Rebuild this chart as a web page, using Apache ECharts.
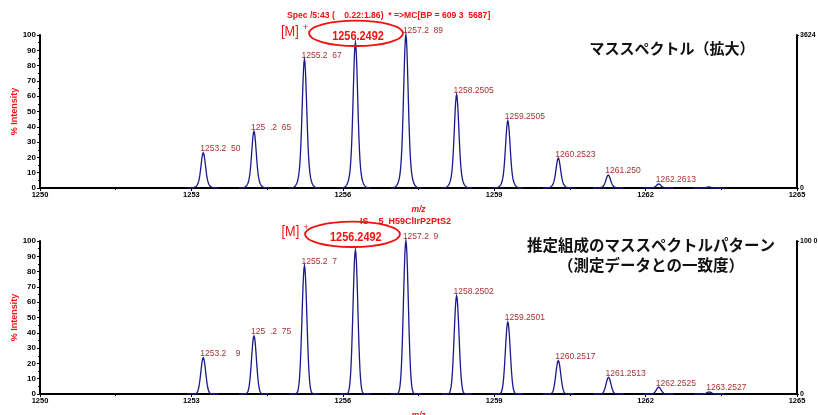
<!DOCTYPE html>
<html>
<head>
<meta charset="utf-8">
<script src="https://cdn.jsdelivr.net/npm/echarts@6/dist/echarts.min.js"></script>
<style>
html, body { margin: 0; padding: 0; background: #fff; }
#chart { width: 818px; height: 415px; }
</style>
</head>
<body>
<div id="chart"></div>
<script>
// measured spectrum (upper panel)
var mzTop = [1253.235, 1254.24, 1255.24, 1256.25, 1257.25, 1258.255, 1259.27, 1260.27, 1261.26, 1262.26, 1263.25];
var intTop = [23, 37, 84, 95, 100, 61, 44, 19.5, 8.5, 2.6, 0.7];
var labelTop = ['1253.2  50', '125  .2  65', '1255.2  67', '', '1257.2  89', '1258.2505', '1259.2505', '1260.2523', '1261.250', '1262.2613', ''];

// simulated isotope pattern (lower panel)
var mzBottom = [1253.235, 1254.24, 1255.24, 1256.25, 1257.25, 1258.255, 1259.27, 1260.27, 1261.265, 1262.26, 1263.26];
var intBottom = [23.7, 38, 83.7, 94, 100, 64, 47, 21.8, 10.9, 4.4, 1.3];
var labelBottom = ['1253.2    9', '125  .2  75', '1255.2  7', '', '1257.2  9', '1258.2502', '1259.2501', '1260.2517', '1261.2513', '1262.2525', '1263.2527'];

var xMin = 1250, xMax = 1265, xStep = 3;
var yMin = 0, yMax = 100, yStep = 10;
var rightLabelTop = '3624';
var rightLabelBottom = '100 0';

var latin = "'Liberation Sans', Arial, sans-serif";
var cjk = "'Noto Sans CJK JP', sans-serif";
var red = '#f01010';

var myChart = echarts.init(document.getElementById('chart'));

function peakRenderer(labels, core, foot, footRatio) {
    return function (params, api) {
        var mz = api.value(0);
        var h = api.value(1);
        var pts = [];
        for (var i = -30; i <= 30; i++) {
            var dx = i * 0.01;
            var f = (1 - footRatio) * Math.exp(-dx * dx / (2 * core * core)) +
                footRatio * Math.exp(-dx * dx / (2 * foot * foot));
            pts.push(api.coord([mz + dx, h * f]));
        }
        var apex = api.coord([mz, h]);
        var children = [{
            type: 'polyline',
            shape: { points: pts },
            style: { stroke: '#1a1a8c', lineWidth: 1.3, fill: null }
        }];
        var txt = labels[params.dataIndex];
        if (txt) {
            children.push({
                type: 'text',
                x: apex[0] - 3,
                y: apex[1] - 4,
                style: {
                    text: txt, fill: '#a83232', fontSize: 8.5, fontFamily: latin,
                    align: 'left', verticalAlign: 'middle'
                }
            });
        }
        return { type: 'group', children: children };
    };
}

function xAxisFor(idx) {
    return {
        type: 'value', gridIndex: idx, min: xMin, max: xMax, interval: xStep,
        axisLine: { onZero: false, lineStyle: { color: '#000', width: 2 } },
        axisTick: { show: true, length: 3, lineStyle: { color: '#000', width: 1 } },
        minorTick: { show: true, splitNumber: 2, length: 2, lineStyle: { color: '#000' } },
        axisLabel: {
            fontSize: 7.5, fontWeight: 'bold', color: '#000', margin: 3, fontFamily: latin,
            formatter: function (v) { return String(v); }
        },
        splitLine: { show: false },
        name: 'm/z', nameLocation: 'middle', nameGap: 17,
        nameTextStyle: { color: red, fontStyle: 'italic', fontWeight: 'bold', fontSize: 8.5, fontFamily: latin }
    };
}

function yLeftFor(idx) {
    return {
        type: 'value', gridIndex: idx, min: yMin, max: yMax, interval: yStep,
        axisLine: { show: true, onZero: false, lineStyle: { color: '#000', width: 2 } },
        axisTick: { show: true, length: 3, lineStyle: { color: '#000', width: 1 } },
        minorTick: { show: true, splitNumber: 2, length: 2, lineStyle: { color: '#000' } },
        axisLabel: { fontSize: 8, fontWeight: 'bold', color: '#000', margin: 4, fontFamily: latin },
        splitLine: { show: false },
        name: '% Intensity', nameLocation: 'middle', nameGap: 21, nameMoveOverlap: false,
        nameTextStyle: { color: red, fontWeight: 'bold', fontSize: 9, fontFamily: latin }
    };
}

function yRightFor(idx, topText) {
    return {
        type: 'value', gridIndex: idx, position: 'right', min: yMin, max: yMax, interval: yMax - yMin,
        axisLine: { show: true, onZero: false, lineStyle: { color: '#000', width: 2 } },
        axisTick: { show: true, length: 2, lineStyle: { color: '#000', width: 1 } },
        axisLabel: {
            fontSize: 7, fontWeight: 'bold', color: '#000', margin: 3, fontFamily: latin,
            formatter: function (v) { return v === yMax ? topText : '0'; }
        },
        splitLine: { show: false }
    };
}

function txt(x, y, text, size, opts) {
    opts = opts || {};
    return {
        type: 'text', x: x, y: y, scaleX: opts.scaleX || 1, z: 10,
        style: {
            text: text, fill: opts.color || red, fontSize: size,
            fontWeight: opts.weight || 'normal', fontFamily: opts.family || latin,
            align: opts.align || 'left', verticalAlign: 'middle',
            textAlign: opts.align || 'left', textVerticalAlign: 'middle'
        }
    };
}

function ellipse(cx, cy, rx, ry) {
    return {
        type: 'ellipse', z: 10,
        shape: { cx: cx, cy: cy, rx: rx, ry: ry },
        style: { fill: 'none', stroke: red, lineWidth: 1.8 }
    };
}

var option = {
    animation: false,
    backgroundColor: '#fff',
    grid: [
        { left: 40, right: 21, top: 35, height: 153, outerBoundsMode: 'none', containLabel: false },
        { left: 40, right: 21, top: 241, height: 153, outerBoundsMode: 'none', containLabel: false }
    ],
    xAxis: [xAxisFor(0), xAxisFor(1)],
    yAxis: [yLeftFor(0), yRightFor(0, rightLabelTop), yLeftFor(1), yRightFor(1, rightLabelBottom)],
    series: [{
        type: 'custom', xAxisIndex: 0, yAxisIndex: 0,
        renderItem: peakRenderer(labelTop, 0.042, 0.08, 0.22),
        data: mzTop.map(function (m, i) { return [m, intTop[i]]; }),
        encode: { x: 0, y: 1 }
    }, {
        type: 'custom', xAxisIndex: 1, yAxisIndex: 2,
        renderItem: peakRenderer(labelBottom, 0.048, 0.06, 0.0),
        data: mzBottom.map(function (m, i) { return [m, intBottom[i]]; }),
        encode: { x: 0, y: 1 }
    }],
    graphic: [
        txt(287, 15.5, 'Spec /5:43 (    0.22:1.86)  * =>MC[BP = 609 3  5687]', 8.6, { weight: 'bold' }),
        txt(281, 32, '[M]', 14.5, { scaleX: 0.88 }),
        txt(303, 28, '+', 9),
        ellipse(356, 33.3, 47, 12.7),
        txt(358, 36.7, '1256.2492', 13, { weight: 'bold', align: 'center', scaleX: 0.84 }),
        txt(672, 48, 'マススペクトル（拡大）', 15, { weight: 'bold', family: cjk, color: '#111', align: 'center' }),

        txt(360, 221.7, 'IS    5_H59ClIrP2PtS2', 9, { weight: 'bold' }),
        txt(281.5, 231.7, '[M]', 14.5, { scaleX: 0.88 }),
        txt(303.5, 228, '+', 9),
        ellipse(352.5, 234.3, 47.5, 12.7),
        txt(355.8, 237.3, '1256.2492', 13, { weight: 'bold', align: 'center', scaleX: 0.84 }),
        txt(651, 245, '推定組成のマススペクトルパターン', 15.5, { weight: 'bold', family: cjk, color: '#111', align: 'center' }),
        txt(651, 265, '（測定データとの一致度）', 15.5, { weight: 'bold', family: cjk, color: '#111', align: 'center' })
    ]
};

myChart.setOption(option);
</script>
</body>
</html>
